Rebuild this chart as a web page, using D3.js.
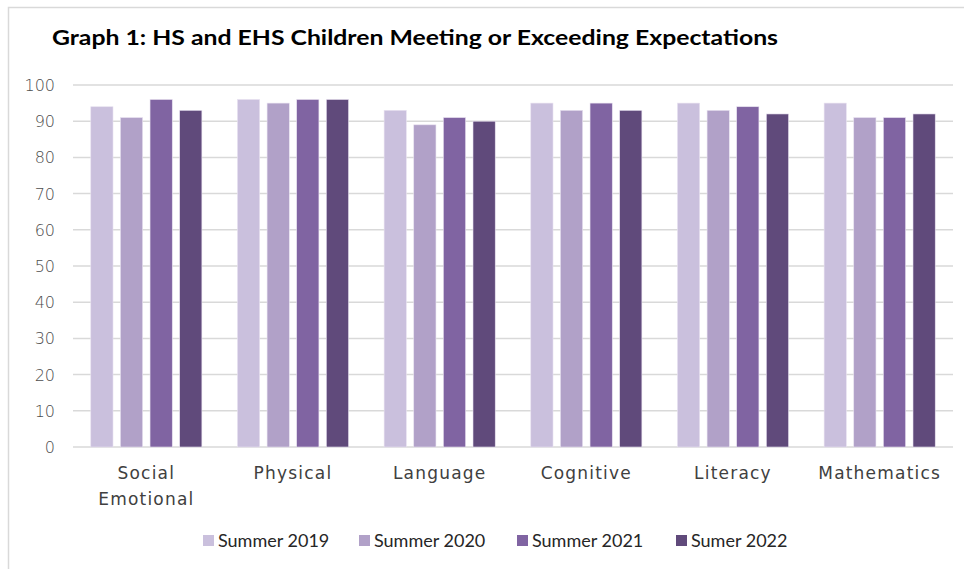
<!DOCTYPE html>
<html>
<head>
<meta charset="utf-8">
<script src="https://cdn.jsdelivr.net/npm/d3@7"></script>
<style>
  body { margin: 0; background: #fff; }
  svg { display: block; }
</style>
</head>
<body>
<div id="chart"></div>
<script>
// chart data
const categories = [["Social", "Emotional"], ["Physical"], ["Language"], ["Cognitive"], ["Literacy"], ["Mathematics"]];
const seriesNames = ["Summer 2019", "Summer 2020", "Summer 2021", "Sumer 2022"];
const summer2019 = [94, 96, 93, 95, 95, 95];
const summer2020 = [91, 95, 89, 93, 93, 91];
const summer2021 = [96, 96, 91, 95, 94, 91];
const summer2022 = [93, 96, 90, 93, 92, 92];
const yTicks = [0, 10, 20, 30, 40, 50, 60, 70, 80, 90, 100];
const colors = ["#cac0dd", "#b1a1c8", "#8064a2", "#604a7b"];

function setupChart() {
    const width = 964
    const height = 569
    const margin = {left: 73, right: 11, top: 85, bottom: 122}

    const svg = d3.select("#chart")
        .append("svg")
        .attr("width", width)
        .attr("height", height);

    // frame of the chart area (cropped screenshot)
    svg.append("path")
        .attr("d", "M8.5," + height + "V7.5H" + width)
        .attr("fill", "none")
        .attr("stroke", "#d9d9d9")
        .attr("stroke-width", 1.5);

    // clipped text from above the crop
    svg.append("text")
        .attr("x", 302).attr("y", -3)
        .style("font-family", "Lato, sans-serif")
        .style("font-size", "18px")
        .text("g");

    // title
    svg.append("text")
        .attr("x", 52).attr("y", 45)
        .style("font-family", "Lato, 'Open Sans', sans-serif")
        .style("font-weight", "bold")
        .style("font-size", "21px")
        .attr("textLength", 726)
        .attr("lengthAdjust", "spacingAndGlyphs")
        .text("Graph 1: HS and EHS Children Meeting or Exceeding Expectations");

    const series = [summer2019, summer2020, summer2021, summer2022];

    const x0 = d3.scaleBand()
        .domain(d3.range(categories.length))
        .range([margin.left, width - margin.right]);

    const x1 = d3.scaleBand()
        .domain(d3.range(series.length))
        .range([0, x0.bandwidth()])
        .paddingInner(0.25)
        .paddingOuter(0.6);

    const y = d3.scaleLinear()
        .domain([0, 100])
        .range([height - margin.bottom, margin.top]);

    // gridlines
    svg.append("g")
        .selectAll("line")
        .data(yTicks)
        .enter()
        .append("line")
        .attr("x1", margin.left)
        .attr("x2", width - margin.right)
        .attr("y1", d => y(d))
        .attr("y2", d => y(d))
        .attr("stroke", "#d9d9d9")
        .attr("stroke-width", 1.5);

    // y labels
    svg.append("g")
        .selectAll("text")
        .data(yTicks)
        .enter()
        .append("text")
        .attr("x", 55)
        .attr("y", d => y(d) + 6)
        .attr("text-anchor", "end")
        .style("font-family", "'DejaVu Sans', sans-serif")
        .style("font-weight", "200")
        .style("font-size", "16px")
        .attr("fill", "#4d4d4d")
        .text(d => d);

    // bars
    const groups = svg.append("g")
        .selectAll("g")
        .data(categories)
        .enter()
        .append("g")
        .attr("transform", (d, i) => "translate(" + x0(i) + ",0)");

    groups.selectAll("rect")
        .data((d, i) => series.map((s, k) => ({k: k, value: s[i]})))
        .enter()
        .append("rect")
        .attr("x", d => x1(d.k))
        .attr("width", x1.bandwidth())
        .attr("y", d => y(d.value))
        .attr("height", d => y(0) - y(d.value))
        .attr("fill", d => colors[d.k])
        .attr("stroke", "#e8e2f0")
        .attr("stroke-width", 0.6);

    // x labels
    groups.append("text")
        .attr("x", x0.bandwidth() / 2)
        .attr("y", height - margin.bottom + 32)
        .attr("text-anchor", "middle")
        .style("font-family", "'DejaVu Sans', sans-serif")
        .style("font-size", "17px")
        .style("letter-spacing", "1.2px")
        .attr("fill", "#404040")
        .selectAll("tspan")
        .data(d => d)
        .enter()
        .append("tspan")
        .attr("x", x0.bandwidth() / 2)
        .attr("dy", (d, i) => i === 0 ? 0 : 26)
        .text(d => d);

    // legend
    const legendX = [203, 359, 517, 676];
    const legend = svg.append("g")
        .selectAll("g")
        .data(seriesNames)
        .enter()
        .append("g")
        .attr("transform", (d, i) => "translate(" + legendX[i] + ",535)");

    legend.append("rect")
        .attr("width", 11).attr("height", 11)
        .attr("fill", (d, i) => colors[i]);

    legend.append("text")
        .attr("x", 15).attr("y", 12)
        .style("font-family", "Lato, 'Open Sans', sans-serif")
        .style("font-size", "18px")
        .attr("fill", "#262626")
        .text(d => d);
}

setupChart();
</script>
</body>
</html>
